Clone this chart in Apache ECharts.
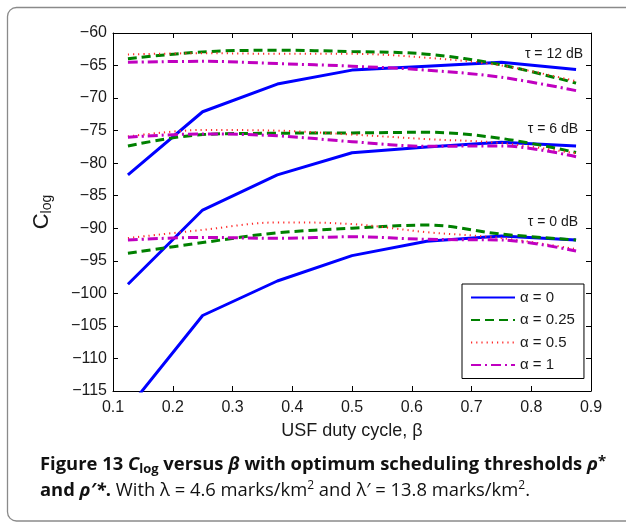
<!DOCTYPE html>
<html>
<head>
<meta charset="utf-8">
<script src="https://cdn.jsdelivr.net/npm/echarts@6/dist/echarts.min.js"></script>
<style>
html,body{margin:0;padding:0;background:#fff;}
#chart{width:626px;height:522px;}
</style>
</head>
<body>
<div id="chart"></div>
<script>
// ---- data ----
var beta = [0.125, 0.25, 0.375, 0.5, 0.625, 0.75, 0.875];
var alphaNames = ['α = 0', 'α = 0.25', 'α = 0.5', 'α = 1'];
var tauLabels = ['τ = 12 dB', 'τ = 6 dB', 'τ = 0 dB'];
var xTicks = [0.1, 0.9, 0.1];   // min, max, step
var yTicks = [-115, -60, 5];    // min, max, step

// tau = 12 dB
var t12_a0   = [-81.8, -72.1, -67.85, -65.7, -65.1, -64.5, -65.6];
var t12_a025 = [-63.95, -62.9, -62.65, -62.85, -63.25, -64.9, -67.7];
var t12_a05  = [-63.3, -63.1, -63.2, -63.2, -63.8, -65.0, -67.4];
var t12_a1   = [-64.5, -64.35, -64.7, -65.1, -65.7, -66.8, -68.85];
// tau = 6 dB
var t6_a0    = [-98.6, -87.2, -81.8, -78.4, -77.5, -76.8, -77.35];
var t6_a025  = [-77.35, -75.6, -75.4, -75.35, -75.25, -76.2, -78.35];
var t6_a05   = [-75.9, -74.9, -75.0, -75.6, -76.3, -76.9, -78.5];
var t6_a1    = [-76.0, -75.5, -75.8, -76.7, -77.4, -77.35, -79.0];
// tau = 0 dB
var t0_a0    = [-117.7, -103.4, -98.1, -94.2, -92.0, -91.2, -91.8];
var t0_a025  = [-93.85, -92.2, -90.7, -90.0, -89.5, -90.9, -91.8];
var t0_a05   = [-91.5, -90.25, -89.1, -89.35, -90.6, -91.5, -93.2];
var t0_a1    = [-91.8, -91.4, -91.55, -91.3, -91.7, -91.8, -93.5];

// ---- styles ----
var styles = [
  {color: '#0000ff', width: 3, type: 'solid', smooth: false},
  {color: '#008000', width: 3, type: [9, 5], smooth: 0.35},
  {color: '#ff2a2a', width: 2, type: [1.2, 4], smooth: 0.35},
  {color: '#c000c0', width: 3, type: [10, 4, 2, 4], smooth: 0.35}
];
var groups = [
  [t12_a0, t12_a025, t12_a05, t12_a1],
  [t6_a0, t6_a025, t6_a05, t6_a1],
  [t0_a0, t0_a025, t0_a05, t0_a1]
];

function pairs(vals) { return beta.map(function (b, i) { return [b, vals[i]]; }); }

var series = [];
groups.forEach(function (g) {
  g.forEach(function (vals, a) {
    var s = styles[a];
    series.push({
      name: alphaNames[a],
      type: 'line',
      data: pairs(vals),
      symbol: 'none',
      smooth: s.smooth,
      clip: true,
      z: 2,
      lineStyle: {color: s.color, width: s.width, type: s.type},
      itemStyle: {color: s.color}
    });
  });
});

var FONT = 'Liberation Sans';
var CAP = 'Open Sans';
var CS = 18.4;
function minus(v) { return String(v).replace('-', '\u2212'); }

var chart = echarts.init(document.getElementById('chart'), null, {renderer: 'canvas'});
var option = {
  animation: false,
  backgroundColor: '#fff',
  grid: {left: 113, right: 35, top: 33, bottom: 131, containLabel: false},
  xAxis: [{
    type: 'value', min: xTicks[0], max: xTicks[1], interval: xTicks[2],
    position: 'bottom',
    name: 'USF duty cycle, β', nameLocation: 'middle', nameGap: 31,
    nameTextStyle: {fontFamily: FONT, fontSize: 18, color: '#1a1a1a'},
    axisLine: {show: true, lineStyle: {color: '#000', width: 1}},
    axisTick: {show: true, inside: true, length: 5, lineStyle: {color: '#000'}},
    axisLabel: {fontFamily: FONT, fontSize: 16, color: '#1a1a1a', margin: 9,
      formatter: function (v) { return v.toFixed(1); }},
    splitLine: {show: false}
  }, {
    type: 'value', min: xTicks[0], max: xTicks[1], interval: xTicks[2],
    position: 'top',
    axisLine: {show: true, lineStyle: {color: '#000', width: 1}},
    axisTick: {show: true, inside: true, length: 5, lineStyle: {color: '#000'}},
    axisLabel: {show: false}, splitLine: {show: false}
  }],
  yAxis: [{
    type: 'value', min: yTicks[0], max: yTicks[1], interval: yTicks[2],
    position: 'left',
    name: '{c|C}{s|log}', nameLocation: 'middle', nameGap: 59, nameRotate: 90,
    nameTextStyle: {
      rich: {
        c: {fontFamily: FONT, fontSize: 22, color: '#1a1a1a', verticalAlign: 'middle'},
        s: {fontFamily: FONT, fontSize: 14, color: '#1a1a1a', verticalAlign: 'middle', padding: [11, 0, 0, 0]}
      }
    },
    axisLine: {show: true, lineStyle: {color: '#000', width: 1}},
    axisTick: {show: true, inside: true, length: 5, lineStyle: {color: '#000'}},
    axisLabel: {fontFamily: FONT, fontSize: 16, color: '#1a1a1a', margin: 6, formatter: minus},
    splitLine: {show: false}
  }, {
    type: 'value', min: yTicks[0], max: yTicks[1], interval: yTicks[2],
    position: 'right',
    axisLine: {show: true, lineStyle: {color: '#000', width: 1}},
    axisTick: {show: true, inside: true, length: 5, lineStyle: {color: '#000'}},
    axisLabel: {show: false}, splitLine: {show: false}
  }],
  legend: {
    data: alphaNames,
    orient: 'vertical',
    left: 462, top: 284,
    padding: [6, 9, 6, 8],
    itemWidth: 44, itemHeight: 14, itemGap: 7.5,
    backgroundColor: '#fff',
    borderColor: '#000', borderWidth: 1, borderRadius: 0,
    selectedMode: false,
    itemStyle: {opacity: 0},
    textStyle: {fontFamily: FONT, fontSize: 15, color: '#1a1a1a', padding: [0, 0, 0, 0]}
  },
  series: series,
  graphic: [
    {type: 'rect', silent: true, z: -10,
      shape: {x: 7.5, y: 7.5, width: 700, height: 513.5, r: 9},
      style: {fill: 'none', stroke: '#8a8a8a', lineWidth: 1.3}},
    {type: 'text', right: 43, top: 47, z: 10,
      style: {text: tauLabels[0], fontFamily: FONT, fontSize: 14, fill: '#1a1a1a'}},
    {type: 'text', right: 48, top: 122, z: 10,
      style: {text: tauLabels[1], fontFamily: FONT, fontSize: 14, fill: '#1a1a1a'}},
    {type: 'text', right: 48, top: 215, z: 10,
      style: {text: tauLabels[2], fontFamily: FONT, fontSize: 14, fill: '#1a1a1a'}},
    {type: 'text', left: 40, top: 454, z: 10,
      style: {
        text: '{b|Figure 13 }{bi|C}{bs|log}{b| versus }{bi|β}{b| with optimum scheduling thresholds }{bi|ρ}{bp|*}',
        rich: {
          b: {fontFamily: CAP, fontWeight: 'bold', fontSize: CS, fill: '#111', verticalAlign: 'middle'},
          bi: {fontFamily: CAP, fontWeight: 'bold', fontStyle: 'italic', fontSize: CS, fill: '#111', verticalAlign: 'middle'},
          bs: {fontFamily: CAP, fontWeight: 'bold', fontSize: 13, fill: '#111', verticalAlign: 'middle', padding: [10, 0, 0, 0]},
          bp: {fontFamily: CAP, fontWeight: 'bold', fontSize: 15, fill: '#111', verticalAlign: 'middle', padding: [0, 0, 6, 0]}
        }
      }},
    {type: 'text', left: 40, top: 480, z: 10,
      style: {
        text: '{b|and }{bi|ρ′*}{b|.}{r| With λ = 4.6 marks/km}{sp|2}{r| and λ′ = 13.8 marks/km}{sp|2}{r|.}',
        rich: {
          b: {fontFamily: CAP, fontWeight: 'bold', fontSize: CS, fill: '#111', verticalAlign: 'middle'},
          bi: {fontFamily: CAP, fontWeight: 'bold', fontStyle: 'italic', fontSize: CS, fill: '#111', verticalAlign: 'middle'},
          r: {fontFamily: CAP, fontSize: CS, fill: '#111', verticalAlign: 'middle'},
          sp: {fontFamily: CAP, fontSize: 12, fill: '#111', verticalAlign: 'middle', padding: [0, 0, 9, 0]}
        }
      }}
  ]
};
chart.setOption(option);
</script>
</body>
</html>
